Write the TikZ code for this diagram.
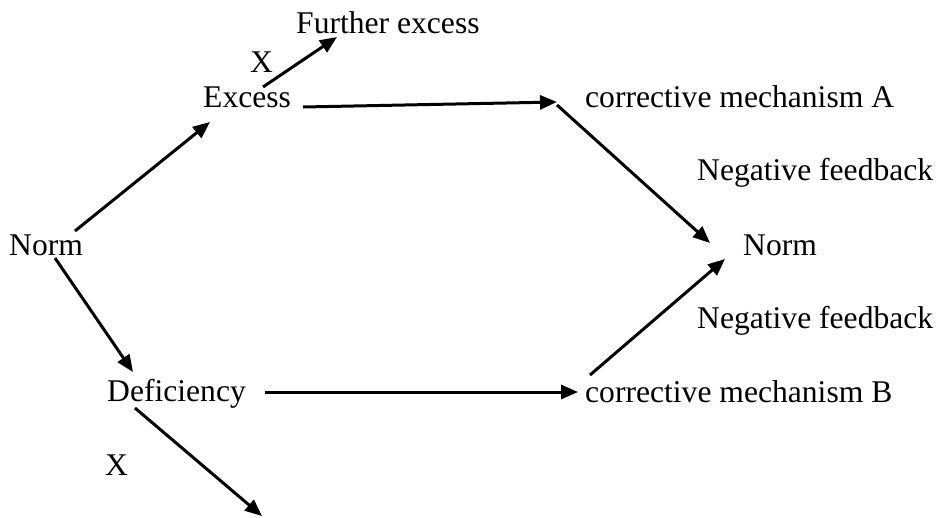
\documentclass[tikz,border=0pt]{standalone}
\usepackage{fontspec}
\setmainfont{Liberation Serif}
\usetikzlibrary{arrows.meta}
\begin{document}
\begin{tikzpicture}[x=1pt,y=-1pt,
  lbl/.style={anchor=base west,inner sep=0pt,font=\fontsize{31.6}{37}\selectfont},
  arr/.style={line width=3pt,-{Triangle[length=17pt,width=14pt]}}]
\useasboundingbox (0,0) rectangle (939,517);
\node[lbl] (normL) at (9,255) {Norm};
\node[lbl] (excess) at (203,107) {Excess};
\node[lbl] (further) at (296,33) {Further excess};
\node[lbl] (x1) at (250,72) {X};
\node[lbl] (corrA) at (585,107) {corrective mechanism A};
\node[lbl] (nf1) at (697,180) {Negative feedback};
\node[lbl] (normR) at (743,255) {Norm};
\node[lbl] (nf2) at (697,328) {Negative feedback};
\node[lbl] (def) at (107,401) {Deficiency};
\node[lbl] (corrB) at (585,402) {corrective mechanism B};
\node[lbl] (x2) at (105,475) {X};
\coordinate (down) at (262,516);
\draw[arr] ([shift={(66,-24)}]normL.base west) -- ([shift={(7,15)}]excess.base west);
\draw[arr] ([shift={(46,3)}]normL.base west) -- ([shift={(26,-29)}]def.base west);
\draw[arr] ([shift={(60,-20)}]excess.base west) -- ([shift={(41,4)}]further.base west);
\draw[arr] ([shift={(100,0)}]excess.base west) -- ([shift={(-28,-5)}]corrA.base west);
\draw[arr] ([shift={(-28,-2)}]corrA.base west) -- ([shift={(-33,-12)}]normR.base west);
\draw[arr] ([shift={(158,-9)}]def.base west) -- ([shift={(-7,-10)}]corrB.base west);
\draw[arr] ([shift={(5,-27)}]corrB.base west) -- ([shift={(-18,4)}]normR.base west);
\draw[arr] ([shift={(28,7)}]def.base west) -- (down);
\end{tikzpicture}
\end{document}
